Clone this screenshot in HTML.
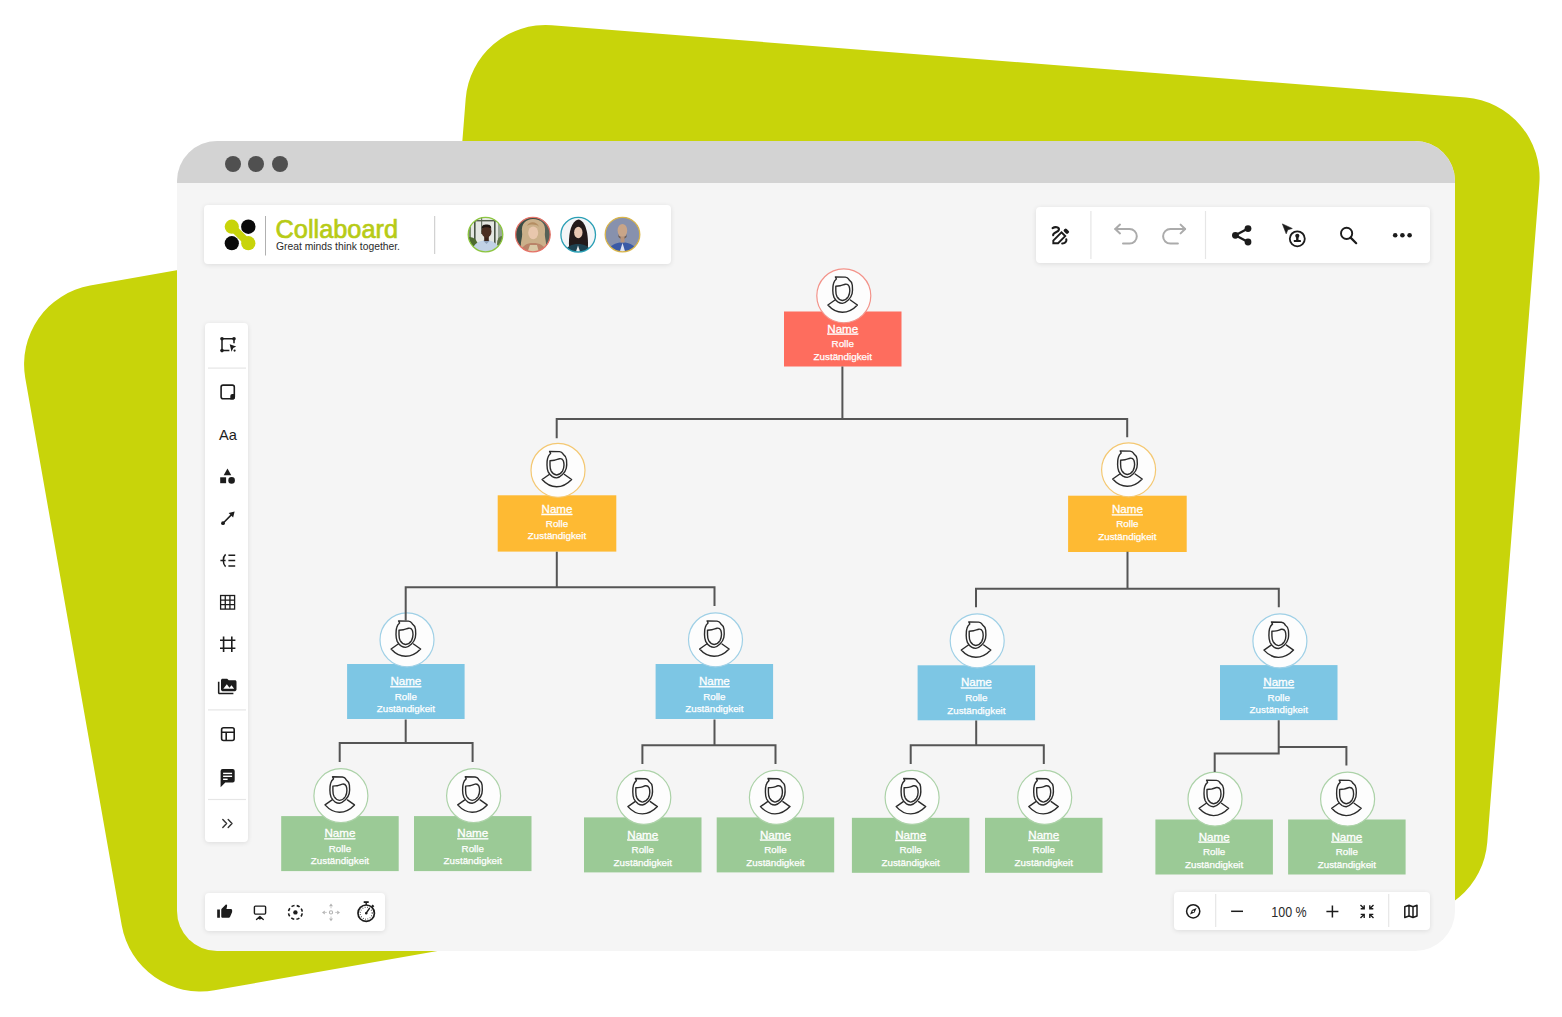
<!DOCTYPE html>
<html><head><meta charset="utf-8"><title>Collaboard</title>
<style>
html,body{margin:0;padding:0;background:#fff;width:1562px;height:1017px;overflow:hidden;font-family:"Liberation Sans", sans-serif}
.abs{position:absolute}
.dot{position:absolute;top:14.5px;width:16px;height:16px;border-radius:50%;background:#505050}
.panel{position:absolute;background:#fff;border-radius:4px;box-shadow:0 1px 5px rgba(0,0,0,0.10)}
</style></head><body>
<svg class="abs" width="1562" height="1017" viewBox="0 0 1562 1017" style="left:0;top:0">
<rect x="472" y="19" width="1077" height="821" rx="80" ry="80" fill="#c8d40a" transform="rotate(4.52 472 19)"/>
<rect x="11.4" y="299.5" width="700" height="715.6" rx="80" ry="80" fill="#c8d40a" transform="rotate(-10 11.4 299.5)"/>
</svg>
<div class="abs" id="win" style="left:177px;top:141px;width:1278px;height:810px;border-radius:40px;background:#f5f5f5;overflow:hidden">
<div style="position:absolute;left:0;top:0;width:1278px;height:42px;background:#d3d3d3"></div>
<div class="dot" style="left:47.8px"></div><div class="dot" style="left:71px"></div><div class="dot" style="left:94.8px"></div>
</div>
<svg class="abs" width="1562" height="1017" viewBox="0 0 1562 1017" style="left:0;top:0">
<rect x="784" y="311.5" width="117.5" height="55" fill="#fe6d5e"/>
<circle cx="843.8" cy="295.8" r="27" fill="#fdfdfd" stroke="#f3938a" stroke-width="1.2"/>
<g transform="translate(843.8,296.1)"><g fill="none" stroke="#2b2b2b" stroke-width="1.4" stroke-linejoin="round" stroke-linecap="round"><path d="M-8.4,-19.2 L1.5,-19.0 C3.1,-18.8 4.2,-18 4.6,-17.3 C5,-16.5 5.3,-16 5.8,-15.7 C7.3,-14.8 8.3,-12.9 8.5,-10.9 C8.8,-8 8.9,-5 8.3,-2.5 C7.7,0 6.3,2.2 4.5,3.8 C2.8,5.4 0.8,7.1 -1.4,7.3 C-3.3,7.2 -4.6,6.7 -5.6,6.1 C-7.2,5 -8.7,3.4 -9.8,1.3 C-10.7,-0.8 -11,-3.5 -11,-5.7 C-11,-8.4 -10.9,-10.9 -10.3,-12.6 C-9.8,-14.4 -8.6,-16.3 -7.4,-17.1 Z"/><path d="M-8.0,-9.9 C-6.5,-10.1 -5.3,-10.1 -3.6,-10.3 C-1.9,-10.5 0,-11.6 1.6,-11.9 C3,-12.1 4.5,-11.5 5.3,-9.9 C5.8,-8.5 6.0,-7 6.0,-5.5 C6.0,-3.5 5.6,-1.5 4.5,0.5 C3.2,2.6 1.3,4.2 -1.4,4.4 C-3.6,4.2 -5.5,2.7 -6.8,0.5 C-7.8,-1.3 -8.0,-3.5 -8.0,-5.6 Z"/><path d="M-8.8,3.9 L-15.9,8.9 C-11.5,13.8 -6.5,16.2 -1.4,16.2 C3.7,16.2 9,13.8 13.6,8.9 L6.5,3.9"/></g></g>
<text x="842.75" y="332.6" text-anchor="middle" font-family='"Liberation Sans", sans-serif' font-size="11.6" fill="#fff" stroke="#fff" stroke-width="0.3" text-decoration="underline">Name</text>
<text x="842.75" y="347.0" text-anchor="middle" font-family='"Liberation Sans", sans-serif' font-size="9.8" fill="#fff" stroke="#fff" stroke-width="0.25">Rolle</text>
<text x="842.75" y="359.7" text-anchor="middle" font-family='"Liberation Sans", sans-serif' font-size="9.8" fill="#fff" stroke="#fff" stroke-width="0.25">Zuständigkeit</text>
<rect x="497.7" y="495.3" width="118.6" height="56.3" fill="#feba33"/>
<circle cx="558" cy="470.3" r="27" fill="#fdfdfd" stroke="#f4c872" stroke-width="1.2"/>
<g transform="translate(558,470.6)"><g fill="none" stroke="#2b2b2b" stroke-width="1.4" stroke-linejoin="round" stroke-linecap="round"><path d="M-8.4,-19.2 L1.5,-19.0 C3.1,-18.8 4.2,-18 4.6,-17.3 C5,-16.5 5.3,-16 5.8,-15.7 C7.3,-14.8 8.3,-12.9 8.5,-10.9 C8.8,-8 8.9,-5 8.3,-2.5 C7.7,0 6.3,2.2 4.5,3.8 C2.8,5.4 0.8,7.1 -1.4,7.3 C-3.3,7.2 -4.6,6.7 -5.6,6.1 C-7.2,5 -8.7,3.4 -9.8,1.3 C-10.7,-0.8 -11,-3.5 -11,-5.7 C-11,-8.4 -10.9,-10.9 -10.3,-12.6 C-9.8,-14.4 -8.6,-16.3 -7.4,-17.1 Z"/><path d="M-8.0,-9.9 C-6.5,-10.1 -5.3,-10.1 -3.6,-10.3 C-1.9,-10.5 0,-11.6 1.6,-11.9 C3,-12.1 4.5,-11.5 5.3,-9.9 C5.8,-8.5 6.0,-7 6.0,-5.5 C6.0,-3.5 5.6,-1.5 4.5,0.5 C3.2,2.6 1.3,4.2 -1.4,4.4 C-3.6,4.2 -5.5,2.7 -6.8,0.5 C-7.8,-1.3 -8.0,-3.5 -8.0,-5.6 Z"/><path d="M-8.8,3.9 L-15.9,8.9 C-11.5,13.8 -6.5,16.2 -1.4,16.2 C3.7,16.2 9,13.8 13.6,8.9 L6.5,3.9"/></g></g>
<text x="557.0" y="512.9" text-anchor="middle" font-family='"Liberation Sans", sans-serif' font-size="11.6" fill="#fff" stroke="#fff" stroke-width="0.3" text-decoration="underline">Name</text>
<text x="557.0" y="526.7" text-anchor="middle" font-family='"Liberation Sans", sans-serif' font-size="9.8" fill="#fff" stroke="#fff" stroke-width="0.25">Rolle</text>
<text x="557.0" y="539.4" text-anchor="middle" font-family='"Liberation Sans", sans-serif' font-size="9.8" fill="#fff" stroke="#fff" stroke-width="0.25">Zuständigkeit</text>
<rect x="1068.1" y="495.7" width="118.6" height="56.3" fill="#feba33"/>
<circle cx="1128.6" cy="469.8" r="27" fill="#fdfdfd" stroke="#f4c872" stroke-width="1.2"/>
<g transform="translate(1128.6,470.1)"><g fill="none" stroke="#2b2b2b" stroke-width="1.4" stroke-linejoin="round" stroke-linecap="round"><path d="M-8.4,-19.2 L1.5,-19.0 C3.1,-18.8 4.2,-18 4.6,-17.3 C5,-16.5 5.3,-16 5.8,-15.7 C7.3,-14.8 8.3,-12.9 8.5,-10.9 C8.8,-8 8.9,-5 8.3,-2.5 C7.7,0 6.3,2.2 4.5,3.8 C2.8,5.4 0.8,7.1 -1.4,7.3 C-3.3,7.2 -4.6,6.7 -5.6,6.1 C-7.2,5 -8.7,3.4 -9.8,1.3 C-10.7,-0.8 -11,-3.5 -11,-5.7 C-11,-8.4 -10.9,-10.9 -10.3,-12.6 C-9.8,-14.4 -8.6,-16.3 -7.4,-17.1 Z"/><path d="M-8.0,-9.9 C-6.5,-10.1 -5.3,-10.1 -3.6,-10.3 C-1.9,-10.5 0,-11.6 1.6,-11.9 C3,-12.1 4.5,-11.5 5.3,-9.9 C5.8,-8.5 6.0,-7 6.0,-5.5 C6.0,-3.5 5.6,-1.5 4.5,0.5 C3.2,2.6 1.3,4.2 -1.4,4.4 C-3.6,4.2 -5.5,2.7 -6.8,0.5 C-7.8,-1.3 -8.0,-3.5 -8.0,-5.6 Z"/><path d="M-8.8,3.9 L-15.9,8.9 C-11.5,13.8 -6.5,16.2 -1.4,16.2 C3.7,16.2 9,13.8 13.6,8.9 L6.5,3.9"/></g></g>
<text x="1127.3999999999999" y="513.3" text-anchor="middle" font-family='"Liberation Sans", sans-serif' font-size="11.6" fill="#fff" stroke="#fff" stroke-width="0.3" text-decoration="underline">Name</text>
<text x="1127.3999999999999" y="527.1" text-anchor="middle" font-family='"Liberation Sans", sans-serif' font-size="9.8" fill="#fff" stroke="#fff" stroke-width="0.25">Rolle</text>
<text x="1127.3999999999999" y="539.8" text-anchor="middle" font-family='"Liberation Sans", sans-serif' font-size="9.8" fill="#fff" stroke="#fff" stroke-width="0.25">Zuständigkeit</text>
<rect x="347.1" y="664" width="117.5" height="55" fill="#7dc6e4"/>
<circle cx="407" cy="639.8" r="27" fill="#fdfdfd" stroke="#9fd0e6" stroke-width="1.2"/>
<g transform="translate(407,640.0999999999999)"><g fill="none" stroke="#2b2b2b" stroke-width="1.4" stroke-linejoin="round" stroke-linecap="round"><path d="M-8.4,-19.2 L1.5,-19.0 C3.1,-18.8 4.2,-18 4.6,-17.3 C5,-16.5 5.3,-16 5.8,-15.7 C7.3,-14.8 8.3,-12.9 8.5,-10.9 C8.8,-8 8.9,-5 8.3,-2.5 C7.7,0 6.3,2.2 4.5,3.8 C2.8,5.4 0.8,7.1 -1.4,7.3 C-3.3,7.2 -4.6,6.7 -5.6,6.1 C-7.2,5 -8.7,3.4 -9.8,1.3 C-10.7,-0.8 -11,-3.5 -11,-5.7 C-11,-8.4 -10.9,-10.9 -10.3,-12.6 C-9.8,-14.4 -8.6,-16.3 -7.4,-17.1 Z"/><path d="M-8.0,-9.9 C-6.5,-10.1 -5.3,-10.1 -3.6,-10.3 C-1.9,-10.5 0,-11.6 1.6,-11.9 C3,-12.1 4.5,-11.5 5.3,-9.9 C5.8,-8.5 6.0,-7 6.0,-5.5 C6.0,-3.5 5.6,-1.5 4.5,0.5 C3.2,2.6 1.3,4.2 -1.4,4.4 C-3.6,4.2 -5.5,2.7 -6.8,0.5 C-7.8,-1.3 -8.0,-3.5 -8.0,-5.6 Z"/><path d="M-8.8,3.9 L-15.9,8.9 C-11.5,13.8 -6.5,16.2 -1.4,16.2 C3.7,16.2 9,13.8 13.6,8.9 L6.5,3.9"/></g></g>
<text x="405.85" y="685.1" text-anchor="middle" font-family='"Liberation Sans", sans-serif' font-size="11.6" fill="#fff" stroke="#fff" stroke-width="0.3" text-decoration="underline">Name</text>
<text x="405.85" y="699.5" text-anchor="middle" font-family='"Liberation Sans", sans-serif' font-size="9.8" fill="#fff" stroke="#fff" stroke-width="0.25">Rolle</text>
<text x="405.85" y="712.2" text-anchor="middle" font-family='"Liberation Sans", sans-serif' font-size="9.8" fill="#fff" stroke="#fff" stroke-width="0.25">Zuständigkeit</text>
<rect x="655.6" y="664" width="117.5" height="55" fill="#7dc6e4"/>
<circle cx="715.5" cy="639.8" r="27" fill="#fdfdfd" stroke="#9fd0e6" stroke-width="1.2"/>
<g transform="translate(715.5,640.0999999999999)"><g fill="none" stroke="#2b2b2b" stroke-width="1.4" stroke-linejoin="round" stroke-linecap="round"><path d="M-8.4,-19.2 L1.5,-19.0 C3.1,-18.8 4.2,-18 4.6,-17.3 C5,-16.5 5.3,-16 5.8,-15.7 C7.3,-14.8 8.3,-12.9 8.5,-10.9 C8.8,-8 8.9,-5 8.3,-2.5 C7.7,0 6.3,2.2 4.5,3.8 C2.8,5.4 0.8,7.1 -1.4,7.3 C-3.3,7.2 -4.6,6.7 -5.6,6.1 C-7.2,5 -8.7,3.4 -9.8,1.3 C-10.7,-0.8 -11,-3.5 -11,-5.7 C-11,-8.4 -10.9,-10.9 -10.3,-12.6 C-9.8,-14.4 -8.6,-16.3 -7.4,-17.1 Z"/><path d="M-8.0,-9.9 C-6.5,-10.1 -5.3,-10.1 -3.6,-10.3 C-1.9,-10.5 0,-11.6 1.6,-11.9 C3,-12.1 4.5,-11.5 5.3,-9.9 C5.8,-8.5 6.0,-7 6.0,-5.5 C6.0,-3.5 5.6,-1.5 4.5,0.5 C3.2,2.6 1.3,4.2 -1.4,4.4 C-3.6,4.2 -5.5,2.7 -6.8,0.5 C-7.8,-1.3 -8.0,-3.5 -8.0,-5.6 Z"/><path d="M-8.8,3.9 L-15.9,8.9 C-11.5,13.8 -6.5,16.2 -1.4,16.2 C3.7,16.2 9,13.8 13.6,8.9 L6.5,3.9"/></g></g>
<text x="714.35" y="685.1" text-anchor="middle" font-family='"Liberation Sans", sans-serif' font-size="11.6" fill="#fff" stroke="#fff" stroke-width="0.3" text-decoration="underline">Name</text>
<text x="714.35" y="699.5" text-anchor="middle" font-family='"Liberation Sans", sans-serif' font-size="9.8" fill="#fff" stroke="#fff" stroke-width="0.25">Rolle</text>
<text x="714.35" y="712.2" text-anchor="middle" font-family='"Liberation Sans", sans-serif' font-size="9.8" fill="#fff" stroke="#fff" stroke-width="0.25">Zuständigkeit</text>
<rect x="917.6" y="665.3" width="117.5" height="55" fill="#7dc6e4"/>
<circle cx="977.2" cy="640.8" r="27" fill="#fdfdfd" stroke="#9fd0e6" stroke-width="1.2"/>
<g transform="translate(977.2,641.0999999999999)"><g fill="none" stroke="#2b2b2b" stroke-width="1.4" stroke-linejoin="round" stroke-linecap="round"><path d="M-8.4,-19.2 L1.5,-19.0 C3.1,-18.8 4.2,-18 4.6,-17.3 C5,-16.5 5.3,-16 5.8,-15.7 C7.3,-14.8 8.3,-12.9 8.5,-10.9 C8.8,-8 8.9,-5 8.3,-2.5 C7.7,0 6.3,2.2 4.5,3.8 C2.8,5.4 0.8,7.1 -1.4,7.3 C-3.3,7.2 -4.6,6.7 -5.6,6.1 C-7.2,5 -8.7,3.4 -9.8,1.3 C-10.7,-0.8 -11,-3.5 -11,-5.7 C-11,-8.4 -10.9,-10.9 -10.3,-12.6 C-9.8,-14.4 -8.6,-16.3 -7.4,-17.1 Z"/><path d="M-8.0,-9.9 C-6.5,-10.1 -5.3,-10.1 -3.6,-10.3 C-1.9,-10.5 0,-11.6 1.6,-11.9 C3,-12.1 4.5,-11.5 5.3,-9.9 C5.8,-8.5 6.0,-7 6.0,-5.5 C6.0,-3.5 5.6,-1.5 4.5,0.5 C3.2,2.6 1.3,4.2 -1.4,4.4 C-3.6,4.2 -5.5,2.7 -6.8,0.5 C-7.8,-1.3 -8.0,-3.5 -8.0,-5.6 Z"/><path d="M-8.8,3.9 L-15.9,8.9 C-11.5,13.8 -6.5,16.2 -1.4,16.2 C3.7,16.2 9,13.8 13.6,8.9 L6.5,3.9"/></g></g>
<text x="976.35" y="686.4" text-anchor="middle" font-family='"Liberation Sans", sans-serif' font-size="11.6" fill="#fff" stroke="#fff" stroke-width="0.3" text-decoration="underline">Name</text>
<text x="976.35" y="700.8" text-anchor="middle" font-family='"Liberation Sans", sans-serif' font-size="9.8" fill="#fff" stroke="#fff" stroke-width="0.25">Rolle</text>
<text x="976.35" y="713.5" text-anchor="middle" font-family='"Liberation Sans", sans-serif' font-size="9.8" fill="#fff" stroke="#fff" stroke-width="0.25">Zuständigkeit</text>
<rect x="1220" y="665.1" width="117.5" height="55" fill="#7dc6e4"/>
<circle cx="1279.9" cy="640.9" r="27" fill="#fdfdfd" stroke="#9fd0e6" stroke-width="1.2"/>
<g transform="translate(1279.9,641.1999999999999)"><g fill="none" stroke="#2b2b2b" stroke-width="1.4" stroke-linejoin="round" stroke-linecap="round"><path d="M-8.4,-19.2 L1.5,-19.0 C3.1,-18.8 4.2,-18 4.6,-17.3 C5,-16.5 5.3,-16 5.8,-15.7 C7.3,-14.8 8.3,-12.9 8.5,-10.9 C8.8,-8 8.9,-5 8.3,-2.5 C7.7,0 6.3,2.2 4.5,3.8 C2.8,5.4 0.8,7.1 -1.4,7.3 C-3.3,7.2 -4.6,6.7 -5.6,6.1 C-7.2,5 -8.7,3.4 -9.8,1.3 C-10.7,-0.8 -11,-3.5 -11,-5.7 C-11,-8.4 -10.9,-10.9 -10.3,-12.6 C-9.8,-14.4 -8.6,-16.3 -7.4,-17.1 Z"/><path d="M-8.0,-9.9 C-6.5,-10.1 -5.3,-10.1 -3.6,-10.3 C-1.9,-10.5 0,-11.6 1.6,-11.9 C3,-12.1 4.5,-11.5 5.3,-9.9 C5.8,-8.5 6.0,-7 6.0,-5.5 C6.0,-3.5 5.6,-1.5 4.5,0.5 C3.2,2.6 1.3,4.2 -1.4,4.4 C-3.6,4.2 -5.5,2.7 -6.8,0.5 C-7.8,-1.3 -8.0,-3.5 -8.0,-5.6 Z"/><path d="M-8.8,3.9 L-15.9,8.9 C-11.5,13.8 -6.5,16.2 -1.4,16.2 C3.7,16.2 9,13.8 13.6,8.9 L6.5,3.9"/></g></g>
<text x="1278.75" y="686.2" text-anchor="middle" font-family='"Liberation Sans", sans-serif' font-size="11.6" fill="#fff" stroke="#fff" stroke-width="0.3" text-decoration="underline">Name</text>
<text x="1278.75" y="700.6" text-anchor="middle" font-family='"Liberation Sans", sans-serif' font-size="9.8" fill="#fff" stroke="#fff" stroke-width="0.25">Rolle</text>
<text x="1278.75" y="713.3000000000001" text-anchor="middle" font-family='"Liberation Sans", sans-serif' font-size="9.8" fill="#fff" stroke="#fff" stroke-width="0.25">Zuständigkeit</text>
<rect x="281.2" y="816.1" width="117.5" height="55" fill="#9bca96"/>
<circle cx="340.9" cy="795.7" r="27" fill="#fdfdfd" stroke="#acd2a8" stroke-width="1.2"/>
<g transform="translate(340.9,796.0)"><g fill="none" stroke="#2b2b2b" stroke-width="1.4" stroke-linejoin="round" stroke-linecap="round"><path d="M-8.4,-19.2 L1.5,-19.0 C3.1,-18.8 4.2,-18 4.6,-17.3 C5,-16.5 5.3,-16 5.8,-15.7 C7.3,-14.8 8.3,-12.9 8.5,-10.9 C8.8,-8 8.9,-5 8.3,-2.5 C7.7,0 6.3,2.2 4.5,3.8 C2.8,5.4 0.8,7.1 -1.4,7.3 C-3.3,7.2 -4.6,6.7 -5.6,6.1 C-7.2,5 -8.7,3.4 -9.8,1.3 C-10.7,-0.8 -11,-3.5 -11,-5.7 C-11,-8.4 -10.9,-10.9 -10.3,-12.6 C-9.8,-14.4 -8.6,-16.3 -7.4,-17.1 Z"/><path d="M-8.0,-9.9 C-6.5,-10.1 -5.3,-10.1 -3.6,-10.3 C-1.9,-10.5 0,-11.6 1.6,-11.9 C3,-12.1 4.5,-11.5 5.3,-9.9 C5.8,-8.5 6.0,-7 6.0,-5.5 C6.0,-3.5 5.6,-1.5 4.5,0.5 C3.2,2.6 1.3,4.2 -1.4,4.4 C-3.6,4.2 -5.5,2.7 -6.8,0.5 C-7.8,-1.3 -8.0,-3.5 -8.0,-5.6 Z"/><path d="M-8.8,3.9 L-15.9,8.9 C-11.5,13.8 -6.5,16.2 -1.4,16.2 C3.7,16.2 9,13.8 13.6,8.9 L6.5,3.9"/></g></g>
<text x="339.95" y="837.2" text-anchor="middle" font-family='"Liberation Sans", sans-serif' font-size="11.6" fill="#fff" stroke="#fff" stroke-width="0.3" text-decoration="underline">Name</text>
<text x="339.95" y="851.6" text-anchor="middle" font-family='"Liberation Sans", sans-serif' font-size="9.8" fill="#fff" stroke="#fff" stroke-width="0.25">Rolle</text>
<text x="339.95" y="864.3000000000001" text-anchor="middle" font-family='"Liberation Sans", sans-serif' font-size="9.8" fill="#fff" stroke="#fff" stroke-width="0.25">Zuständigkeit</text>
<rect x="414" y="816.1" width="117.5" height="55" fill="#9bca96"/>
<circle cx="473.6" cy="795.7" r="27" fill="#fdfdfd" stroke="#acd2a8" stroke-width="1.2"/>
<g transform="translate(473.6,796.0)"><g fill="none" stroke="#2b2b2b" stroke-width="1.4" stroke-linejoin="round" stroke-linecap="round"><path d="M-8.4,-19.2 L1.5,-19.0 C3.1,-18.8 4.2,-18 4.6,-17.3 C5,-16.5 5.3,-16 5.8,-15.7 C7.3,-14.8 8.3,-12.9 8.5,-10.9 C8.8,-8 8.9,-5 8.3,-2.5 C7.7,0 6.3,2.2 4.5,3.8 C2.8,5.4 0.8,7.1 -1.4,7.3 C-3.3,7.2 -4.6,6.7 -5.6,6.1 C-7.2,5 -8.7,3.4 -9.8,1.3 C-10.7,-0.8 -11,-3.5 -11,-5.7 C-11,-8.4 -10.9,-10.9 -10.3,-12.6 C-9.8,-14.4 -8.6,-16.3 -7.4,-17.1 Z"/><path d="M-8.0,-9.9 C-6.5,-10.1 -5.3,-10.1 -3.6,-10.3 C-1.9,-10.5 0,-11.6 1.6,-11.9 C3,-12.1 4.5,-11.5 5.3,-9.9 C5.8,-8.5 6.0,-7 6.0,-5.5 C6.0,-3.5 5.6,-1.5 4.5,0.5 C3.2,2.6 1.3,4.2 -1.4,4.4 C-3.6,4.2 -5.5,2.7 -6.8,0.5 C-7.8,-1.3 -8.0,-3.5 -8.0,-5.6 Z"/><path d="M-8.8,3.9 L-15.9,8.9 C-11.5,13.8 -6.5,16.2 -1.4,16.2 C3.7,16.2 9,13.8 13.6,8.9 L6.5,3.9"/></g></g>
<text x="472.75" y="837.2" text-anchor="middle" font-family='"Liberation Sans", sans-serif' font-size="11.6" fill="#fff" stroke="#fff" stroke-width="0.3" text-decoration="underline">Name</text>
<text x="472.75" y="851.6" text-anchor="middle" font-family='"Liberation Sans", sans-serif' font-size="9.8" fill="#fff" stroke="#fff" stroke-width="0.25">Rolle</text>
<text x="472.75" y="864.3000000000001" text-anchor="middle" font-family='"Liberation Sans", sans-serif' font-size="9.8" fill="#fff" stroke="#fff" stroke-width="0.25">Zuständigkeit</text>
<rect x="584" y="817.4" width="117.5" height="55" fill="#9bca96"/>
<circle cx="643.8" cy="797.4" r="27" fill="#fdfdfd" stroke="#acd2a8" stroke-width="1.2"/>
<g transform="translate(643.8,797.6999999999999)"><g fill="none" stroke="#2b2b2b" stroke-width="1.4" stroke-linejoin="round" stroke-linecap="round"><path d="M-8.4,-19.2 L1.5,-19.0 C3.1,-18.8 4.2,-18 4.6,-17.3 C5,-16.5 5.3,-16 5.8,-15.7 C7.3,-14.8 8.3,-12.9 8.5,-10.9 C8.8,-8 8.9,-5 8.3,-2.5 C7.7,0 6.3,2.2 4.5,3.8 C2.8,5.4 0.8,7.1 -1.4,7.3 C-3.3,7.2 -4.6,6.7 -5.6,6.1 C-7.2,5 -8.7,3.4 -9.8,1.3 C-10.7,-0.8 -11,-3.5 -11,-5.7 C-11,-8.4 -10.9,-10.9 -10.3,-12.6 C-9.8,-14.4 -8.6,-16.3 -7.4,-17.1 Z"/><path d="M-8.0,-9.9 C-6.5,-10.1 -5.3,-10.1 -3.6,-10.3 C-1.9,-10.5 0,-11.6 1.6,-11.9 C3,-12.1 4.5,-11.5 5.3,-9.9 C5.8,-8.5 6.0,-7 6.0,-5.5 C6.0,-3.5 5.6,-1.5 4.5,0.5 C3.2,2.6 1.3,4.2 -1.4,4.4 C-3.6,4.2 -5.5,2.7 -6.8,0.5 C-7.8,-1.3 -8.0,-3.5 -8.0,-5.6 Z"/><path d="M-8.8,3.9 L-15.9,8.9 C-11.5,13.8 -6.5,16.2 -1.4,16.2 C3.7,16.2 9,13.8 13.6,8.9 L6.5,3.9"/></g></g>
<text x="642.75" y="838.5" text-anchor="middle" font-family='"Liberation Sans", sans-serif' font-size="11.6" fill="#fff" stroke="#fff" stroke-width="0.3" text-decoration="underline">Name</text>
<text x="642.75" y="852.9" text-anchor="middle" font-family='"Liberation Sans", sans-serif' font-size="9.8" fill="#fff" stroke="#fff" stroke-width="0.25">Rolle</text>
<text x="642.75" y="865.6" text-anchor="middle" font-family='"Liberation Sans", sans-serif' font-size="9.8" fill="#fff" stroke="#fff" stroke-width="0.25">Zuständigkeit</text>
<rect x="716.7" y="817.4" width="117.5" height="55" fill="#9bca96"/>
<circle cx="776.4" cy="797.4" r="27" fill="#fdfdfd" stroke="#acd2a8" stroke-width="1.2"/>
<g transform="translate(776.4,797.6999999999999)"><g fill="none" stroke="#2b2b2b" stroke-width="1.4" stroke-linejoin="round" stroke-linecap="round"><path d="M-8.4,-19.2 L1.5,-19.0 C3.1,-18.8 4.2,-18 4.6,-17.3 C5,-16.5 5.3,-16 5.8,-15.7 C7.3,-14.8 8.3,-12.9 8.5,-10.9 C8.8,-8 8.9,-5 8.3,-2.5 C7.7,0 6.3,2.2 4.5,3.8 C2.8,5.4 0.8,7.1 -1.4,7.3 C-3.3,7.2 -4.6,6.7 -5.6,6.1 C-7.2,5 -8.7,3.4 -9.8,1.3 C-10.7,-0.8 -11,-3.5 -11,-5.7 C-11,-8.4 -10.9,-10.9 -10.3,-12.6 C-9.8,-14.4 -8.6,-16.3 -7.4,-17.1 Z"/><path d="M-8.0,-9.9 C-6.5,-10.1 -5.3,-10.1 -3.6,-10.3 C-1.9,-10.5 0,-11.6 1.6,-11.9 C3,-12.1 4.5,-11.5 5.3,-9.9 C5.8,-8.5 6.0,-7 6.0,-5.5 C6.0,-3.5 5.6,-1.5 4.5,0.5 C3.2,2.6 1.3,4.2 -1.4,4.4 C-3.6,4.2 -5.5,2.7 -6.8,0.5 C-7.8,-1.3 -8.0,-3.5 -8.0,-5.6 Z"/><path d="M-8.8,3.9 L-15.9,8.9 C-11.5,13.8 -6.5,16.2 -1.4,16.2 C3.7,16.2 9,13.8 13.6,8.9 L6.5,3.9"/></g></g>
<text x="775.45" y="838.5" text-anchor="middle" font-family='"Liberation Sans", sans-serif' font-size="11.6" fill="#fff" stroke="#fff" stroke-width="0.3" text-decoration="underline">Name</text>
<text x="775.45" y="852.9" text-anchor="middle" font-family='"Liberation Sans", sans-serif' font-size="9.8" fill="#fff" stroke="#fff" stroke-width="0.25">Rolle</text>
<text x="775.45" y="865.6" text-anchor="middle" font-family='"Liberation Sans", sans-serif' font-size="9.8" fill="#fff" stroke="#fff" stroke-width="0.25">Zuständigkeit</text>
<rect x="851.9" y="817.8" width="117.5" height="55" fill="#9bca96"/>
<circle cx="912.1" cy="797.4" r="27" fill="#fdfdfd" stroke="#acd2a8" stroke-width="1.2"/>
<g transform="translate(912.1,797.6999999999999)"><g fill="none" stroke="#2b2b2b" stroke-width="1.4" stroke-linejoin="round" stroke-linecap="round"><path d="M-8.4,-19.2 L1.5,-19.0 C3.1,-18.8 4.2,-18 4.6,-17.3 C5,-16.5 5.3,-16 5.8,-15.7 C7.3,-14.8 8.3,-12.9 8.5,-10.9 C8.8,-8 8.9,-5 8.3,-2.5 C7.7,0 6.3,2.2 4.5,3.8 C2.8,5.4 0.8,7.1 -1.4,7.3 C-3.3,7.2 -4.6,6.7 -5.6,6.1 C-7.2,5 -8.7,3.4 -9.8,1.3 C-10.7,-0.8 -11,-3.5 -11,-5.7 C-11,-8.4 -10.9,-10.9 -10.3,-12.6 C-9.8,-14.4 -8.6,-16.3 -7.4,-17.1 Z"/><path d="M-8.0,-9.9 C-6.5,-10.1 -5.3,-10.1 -3.6,-10.3 C-1.9,-10.5 0,-11.6 1.6,-11.9 C3,-12.1 4.5,-11.5 5.3,-9.9 C5.8,-8.5 6.0,-7 6.0,-5.5 C6.0,-3.5 5.6,-1.5 4.5,0.5 C3.2,2.6 1.3,4.2 -1.4,4.4 C-3.6,4.2 -5.5,2.7 -6.8,0.5 C-7.8,-1.3 -8.0,-3.5 -8.0,-5.6 Z"/><path d="M-8.8,3.9 L-15.9,8.9 C-11.5,13.8 -6.5,16.2 -1.4,16.2 C3.7,16.2 9,13.8 13.6,8.9 L6.5,3.9"/></g></g>
<text x="910.65" y="838.9" text-anchor="middle" font-family='"Liberation Sans", sans-serif' font-size="11.6" fill="#fff" stroke="#fff" stroke-width="0.3" text-decoration="underline">Name</text>
<text x="910.65" y="853.3" text-anchor="middle" font-family='"Liberation Sans", sans-serif' font-size="9.8" fill="#fff" stroke="#fff" stroke-width="0.25">Rolle</text>
<text x="910.65" y="866.0" text-anchor="middle" font-family='"Liberation Sans", sans-serif' font-size="9.8" fill="#fff" stroke="#fff" stroke-width="0.25">Zuständigkeit</text>
<rect x="985" y="817.8" width="117.5" height="55" fill="#9bca96"/>
<circle cx="1044.7" cy="797.4" r="27" fill="#fdfdfd" stroke="#acd2a8" stroke-width="1.2"/>
<g transform="translate(1044.7,797.6999999999999)"><g fill="none" stroke="#2b2b2b" stroke-width="1.4" stroke-linejoin="round" stroke-linecap="round"><path d="M-8.4,-19.2 L1.5,-19.0 C3.1,-18.8 4.2,-18 4.6,-17.3 C5,-16.5 5.3,-16 5.8,-15.7 C7.3,-14.8 8.3,-12.9 8.5,-10.9 C8.8,-8 8.9,-5 8.3,-2.5 C7.7,0 6.3,2.2 4.5,3.8 C2.8,5.4 0.8,7.1 -1.4,7.3 C-3.3,7.2 -4.6,6.7 -5.6,6.1 C-7.2,5 -8.7,3.4 -9.8,1.3 C-10.7,-0.8 -11,-3.5 -11,-5.7 C-11,-8.4 -10.9,-10.9 -10.3,-12.6 C-9.8,-14.4 -8.6,-16.3 -7.4,-17.1 Z"/><path d="M-8.0,-9.9 C-6.5,-10.1 -5.3,-10.1 -3.6,-10.3 C-1.9,-10.5 0,-11.6 1.6,-11.9 C3,-12.1 4.5,-11.5 5.3,-9.9 C5.8,-8.5 6.0,-7 6.0,-5.5 C6.0,-3.5 5.6,-1.5 4.5,0.5 C3.2,2.6 1.3,4.2 -1.4,4.4 C-3.6,4.2 -5.5,2.7 -6.8,0.5 C-7.8,-1.3 -8.0,-3.5 -8.0,-5.6 Z"/><path d="M-8.8,3.9 L-15.9,8.9 C-11.5,13.8 -6.5,16.2 -1.4,16.2 C3.7,16.2 9,13.8 13.6,8.9 L6.5,3.9"/></g></g>
<text x="1043.75" y="838.9" text-anchor="middle" font-family='"Liberation Sans", sans-serif' font-size="11.6" fill="#fff" stroke="#fff" stroke-width="0.3" text-decoration="underline">Name</text>
<text x="1043.75" y="853.3" text-anchor="middle" font-family='"Liberation Sans", sans-serif' font-size="9.8" fill="#fff" stroke="#fff" stroke-width="0.25">Rolle</text>
<text x="1043.75" y="866.0" text-anchor="middle" font-family='"Liberation Sans", sans-serif' font-size="9.8" fill="#fff" stroke="#fff" stroke-width="0.25">Zuständigkeit</text>
<rect x="1155.4" y="819.5" width="117.5" height="55" fill="#9bca96"/>
<circle cx="1215" cy="799.1" r="27" fill="#fdfdfd" stroke="#acd2a8" stroke-width="1.2"/>
<g transform="translate(1215,799.4)"><g fill="none" stroke="#2b2b2b" stroke-width="1.4" stroke-linejoin="round" stroke-linecap="round"><path d="M-8.4,-19.2 L1.5,-19.0 C3.1,-18.8 4.2,-18 4.6,-17.3 C5,-16.5 5.3,-16 5.8,-15.7 C7.3,-14.8 8.3,-12.9 8.5,-10.9 C8.8,-8 8.9,-5 8.3,-2.5 C7.7,0 6.3,2.2 4.5,3.8 C2.8,5.4 0.8,7.1 -1.4,7.3 C-3.3,7.2 -4.6,6.7 -5.6,6.1 C-7.2,5 -8.7,3.4 -9.8,1.3 C-10.7,-0.8 -11,-3.5 -11,-5.7 C-11,-8.4 -10.9,-10.9 -10.3,-12.6 C-9.8,-14.4 -8.6,-16.3 -7.4,-17.1 Z"/><path d="M-8.0,-9.9 C-6.5,-10.1 -5.3,-10.1 -3.6,-10.3 C-1.9,-10.5 0,-11.6 1.6,-11.9 C3,-12.1 4.5,-11.5 5.3,-9.9 C5.8,-8.5 6.0,-7 6.0,-5.5 C6.0,-3.5 5.6,-1.5 4.5,0.5 C3.2,2.6 1.3,4.2 -1.4,4.4 C-3.6,4.2 -5.5,2.7 -6.8,0.5 C-7.8,-1.3 -8.0,-3.5 -8.0,-5.6 Z"/><path d="M-8.8,3.9 L-15.9,8.9 C-11.5,13.8 -6.5,16.2 -1.4,16.2 C3.7,16.2 9,13.8 13.6,8.9 L6.5,3.9"/></g></g>
<text x="1214.15" y="840.6" text-anchor="middle" font-family='"Liberation Sans", sans-serif' font-size="11.6" fill="#fff" stroke="#fff" stroke-width="0.3" text-decoration="underline">Name</text>
<text x="1214.15" y="855.0" text-anchor="middle" font-family='"Liberation Sans", sans-serif' font-size="9.8" fill="#fff" stroke="#fff" stroke-width="0.25">Rolle</text>
<text x="1214.15" y="867.7" text-anchor="middle" font-family='"Liberation Sans", sans-serif' font-size="9.8" fill="#fff" stroke="#fff" stroke-width="0.25">Zuständigkeit</text>
<rect x="1288.1" y="819.5" width="117.5" height="55" fill="#9bca96"/>
<circle cx="1347.6" cy="799.1" r="27" fill="#fdfdfd" stroke="#acd2a8" stroke-width="1.2"/>
<g transform="translate(1347.6,799.4)"><g fill="none" stroke="#2b2b2b" stroke-width="1.4" stroke-linejoin="round" stroke-linecap="round"><path d="M-8.4,-19.2 L1.5,-19.0 C3.1,-18.8 4.2,-18 4.6,-17.3 C5,-16.5 5.3,-16 5.8,-15.7 C7.3,-14.8 8.3,-12.9 8.5,-10.9 C8.8,-8 8.9,-5 8.3,-2.5 C7.7,0 6.3,2.2 4.5,3.8 C2.8,5.4 0.8,7.1 -1.4,7.3 C-3.3,7.2 -4.6,6.7 -5.6,6.1 C-7.2,5 -8.7,3.4 -9.8,1.3 C-10.7,-0.8 -11,-3.5 -11,-5.7 C-11,-8.4 -10.9,-10.9 -10.3,-12.6 C-9.8,-14.4 -8.6,-16.3 -7.4,-17.1 Z"/><path d="M-8.0,-9.9 C-6.5,-10.1 -5.3,-10.1 -3.6,-10.3 C-1.9,-10.5 0,-11.6 1.6,-11.9 C3,-12.1 4.5,-11.5 5.3,-9.9 C5.8,-8.5 6.0,-7 6.0,-5.5 C6.0,-3.5 5.6,-1.5 4.5,0.5 C3.2,2.6 1.3,4.2 -1.4,4.4 C-3.6,4.2 -5.5,2.7 -6.8,0.5 C-7.8,-1.3 -8.0,-3.5 -8.0,-5.6 Z"/><path d="M-8.8,3.9 L-15.9,8.9 C-11.5,13.8 -6.5,16.2 -1.4,16.2 C3.7,16.2 9,13.8 13.6,8.9 L6.5,3.9"/></g></g>
<text x="1346.85" y="840.6" text-anchor="middle" font-family='"Liberation Sans", sans-serif' font-size="11.6" fill="#fff" stroke="#fff" stroke-width="0.3" text-decoration="underline">Name</text>
<text x="1346.85" y="855.0" text-anchor="middle" font-family='"Liberation Sans", sans-serif' font-size="9.8" fill="#fff" stroke="#fff" stroke-width="0.25">Rolle</text>
<text x="1346.85" y="867.7" text-anchor="middle" font-family='"Liberation Sans", sans-serif' font-size="9.8" fill="#fff" stroke="#fff" stroke-width="0.25">Zuständigkeit</text>
<path d="M842.4 366.5 V419 M556.7 419 H1127.2 M556.7 418 V438.3 M1127.2 418 V437.3 M556.8 551.7 V587.3 M405.7 587.3 H714.5 M405.7 586.3 V620.7 M714.5 586.3 V606 M1127.5 551.7 V588.7 M976 588.7 H1278.8 M976 587.7 V607.3 M1278.8 587.7 V607.2 M405.7 719.4 V743 M339.7 743 H472.6 M339.7 742 V762 M472.6 742 V762 M714.5 719.4 V745.2 M642.4 745.2 H775.5 M642.4 744.2 V764 M775.5 744.2 V764 M976.2 720.4 V745.2 M910.7 745.2 H1043.8 M910.7 744.2 V764 M1043.8 744.2 V764 M1278.7 720.3 V753.5 M1214.7 753.5 H1279.7 M1214.7 752.5 V772 M1278.7 746.9 H1346.4 M1346.4 745.9 V765.6" fill="none" stroke="#555" stroke-width="2"/>
</svg>
<div class="panel" style="left:204px;top:205px;width:467px;height:59px"></div>
<div class="panel" style="left:1036px;top:207px;width:394px;height:56px"></div>
<div class="panel" style="left:205px;top:323px;width:43px;height:519px"></div>
<div class="panel" style="left:205px;top:892.5px;width:180px;height:38px"></div>
<div class="panel" style="left:1174px;top:891.5px;width:256px;height:38.5px"></div>
<svg class="abs" width="1562" height="1017" viewBox="0 0 1562 1017" style="left:0;top:0">
<line x1="231.8" y1="226.7" x2="248.3" y2="243.2" stroke="#c8d40a" stroke-width="7.5"/>
<circle cx="231.8" cy="226.7" r="7.1" fill="#c8d40a"/><circle cx="248.3" cy="243.2" r="7.1" fill="#c8d40a"/>
<circle cx="248.3" cy="226.7" r="7.2" fill="#0a0a0a"/><circle cx="231.8" cy="243.2" r="7.1" fill="#0a0a0a"/>
<rect x="265" y="216" width="1" height="39.5" fill="#b0b0b0"/>
<rect x="434.2" y="216" width="1" height="38" fill="#c8c8c8"/>
<text x="275.5" y="238" font-family='"Liberation Sans", sans-serif' font-size="25" fill="#b7cb16" stroke="#b7cb16" stroke-width="0.7" textLength="122.5" lengthAdjust="spacingAndGlyphs">Collaboard</text>
<text x="276" y="250.3" font-family='"Liberation Sans", sans-serif' font-size="10.6" fill="#2a2a2a" textLength="124" lengthAdjust="spacingAndGlyphs">Great minds think together.</text>
</svg>
<svg class="abs" width="1562" height="1017" viewBox="0 0 1562 1017" style="left:0;top:0">
<g fill="#e6e6e6"><rect x="1090.3" y="211" width="1.2" height="48"/><rect x="1204.9" y="211" width="1.2" height="48"/><rect x="208" y="367.5" width="38" height="1.2"/><rect x="208" y="709.3" width="38" height="1.2"/><rect x="208" y="798.9" width="38" height="1.2"/><rect x="1215.1" y="894" width="1.2" height="33"/><rect x="1388.1" y="894" width="1.2" height="33"/></g>
<g fill="none" stroke="#1c1c1c" stroke-width="2.1" stroke-linecap="round" stroke-linejoin="round"><path d="M1052.6 228.2 C1055 226.4 1059.4 226.8 1058.9 229.7 C1058.4 232.3 1052.6 232.4 1053.2 235.3"/><path d="M1062.2 243.5 C1064.9 243.6 1066.9 241.7 1066.3 239.2"/><path d="M1053.3 243.2 V240.6 L1061.5 232.4 L1065.2 236.1 L1058.1 243.2 Z" stroke-width="1.9" stroke-linejoin="miter"/></g>
<g transform="translate(1066.3 231.3) rotate(-45)"><rect x="-1.8" y="-2.8" width="3.8" height="5.6" rx="1.4" fill="#1c1c1c"/></g>
<g fill="none" stroke="#ababab" stroke-width="2" stroke-linecap="round" stroke-linejoin="round"><path d="M1115.3 229 H1129.5 A7.3 7.3 0 0 1 1129.5 243.6 H1123"/><path d="M1120 224.6 L1115.3 229 L1120 233.4"/><path d="M1185.1 229 H1170.4 A7.3 7.3 0 0 0 1170.4 243.6 H1177.9"/><path d="M1180.6 224.6 L1185.1 229 L1180.6 233.4"/></g>
<g fill="#1c1c1c"><circle cx="1235.4" cy="235.3" r="3.4"/><circle cx="1248" cy="228.6" r="3.4"/><circle cx="1248" cy="242" r="3.4"/></g><path d="M1235.4 235.3 L1248 228.6 M1235.4 235.3 L1248 242" stroke="#1c1c1c" stroke-width="2.3"/>
<path d="M1282.4 223.9 L1292.3 228.5 L1287.8 229.8 L1286.2 233.8 Z" fill="#1c1c1c" stroke="#1c1c1c" stroke-width="0.6" stroke-linejoin="round"/><circle cx="1297.3" cy="238.8" r="7.5" fill="none" stroke="#1c1c1c" stroke-width="1.8"/><circle cx="1297.3" cy="235.8" r="2.1" fill="#1c1c1c"/><rect x="1296.1" y="236" width="2.4" height="4.5" fill="#1c1c1c"/><rect x="1293.8" y="240" width="7.2" height="1.9" rx="0.4" fill="#1c1c1c"/>
<circle cx="1346.6" cy="233.4" r="5.6" fill="none" stroke="#1c1c1c" stroke-width="1.9"/><path d="M1350.6 237.6 L1356.2 243.2" stroke="#1c1c1c" stroke-width="2.2" stroke-linecap="round"/>
<g fill="#1c1c1c"><circle cx="1395.2" cy="235.3" r="2.3"/><circle cx="1402.4" cy="235.3" r="2.3"/><circle cx="1409.6" cy="235.3" r="2.3"/></g>
<g fill="none" stroke="#1c1c1c" stroke-width="1.5"><path d="M222 350.6 V338.7 H234 V343.3 M222 350.6 H229.4"/></g><g fill="#1c1c1c"><circle cx="222" cy="338.7" r="1.8"/><circle cx="234" cy="338.7" r="1.8"/><circle cx="222" cy="350.6" r="1.8"/><path d="M229.7 344.2 L236.2 346.5 L233.3 348 L231.5 351.8 Z"/><circle cx="234.6" cy="350.6" r="1.1"/></g>
<rect x="221.1" y="385.1" width="13.2" height="13.7" rx="2" fill="none" stroke="#1c1c1c" stroke-width="1.6"/><path d="M230.3 399.6 V396 Q230.3 394 232.3 394 H235 V397.6 Q235 399.6 233 399.6 Z" fill="#1c1c1c"/>
<text x="227.9" y="440" text-anchor="middle" font-family='"Liberation Sans", sans-serif' font-size="14.6" fill="#1c1c1c">Aa</text>
<g fill="#1c1c1c"><path d="M227.5 468.6 L231.3 475.2 H223.7 Z"/><rect x="220.2" y="477.3" width="5.9" height="5.9"/><circle cx="231.6" cy="480.4" r="3.3"/></g>
<circle cx="223" cy="523.2" r="1.9" fill="#1c1c1c"/><path d="M223 523.2 L232.5 513.6" stroke="#1c1c1c" stroke-width="1.5"/><path d="M234.6 511.5 L228.6 513 L233.1 517.5 Z" fill="#1c1c1c"/>
<g fill="none" stroke="#1c1c1c" stroke-width="1.5"><path d="M228.4 555.3 H235.2 M228.4 560.6 H235.2 M228.4 566 H235.2 M220.4 560.6 H225.6"/><path d="M225.6 554.4 C223.8 556 223.3 558.6 223.3 560.6 C223.3 562.6 223.8 565 225.6 566.6"/></g>
<g fill="none" stroke="#1c1c1c" stroke-width="1.3"><rect x="220.6" y="595.5" width="14" height="13.6"/><path d="M225.27 595.5 V609.1 M229.93 595.5 V609.1 M220.6 600.03 H234.6 M220.6 604.57 H234.6"/></g>
<g fill="none" stroke="#1c1c1c" stroke-width="1.6"><path d="M223.6 636.5 V651.9 M231.8 636.5 V651.9 M220 640.2 H235.4 M220 648.2 H235.4"/></g>
<g transform="translate(217.9 677.2) scale(0.775)"><path fill="#1c1c1c" d="M2 6H0v5h.01L0 20c0 1.1.9 2 2 2h18v-2H2V6zm20-2h-8l-2-2H6c-1.1 0-1.99.9-1.99 2L4 16c0 1.1.9 2 2 2h16c1.1 0 2-.9 2-2V6c0-1.1-.9-2-2-2zM7 15l4.5-6 3.5 4.51 2.5-3.01L21 15H7z"/></g>
<g fill="none" stroke="#1c1c1c" stroke-width="1.6"><rect x="221.6" y="727.7" width="12.6" height="12.8" rx="2"/><path d="M221.6 732.3 H234.2 M226.2 732.3 V740.5"/></g>
<path d="M222.6 769.1 H232.7 Q234.7 769.1 234.7 771.1 V780.6 Q234.7 782.6 232.7 782.6 H225.3 L220.6 787.2 V771.1 Q220.6 769.1 222.6 769.1 Z" fill="#1c1c1c"/><g fill="#fff"><rect x="223.1" y="772.7" width="9" height="1.4"/><rect x="223.1" y="775.6" width="9" height="1.4"/><rect x="223.1" y="778.6" width="4.5" height="1.4"/></g>
<g fill="none" stroke="#333" stroke-width="1.4" stroke-linecap="round" stroke-linejoin="round"><path d="M222.8 819.4 L226.6 823.5 L222.8 827.6 M228.2 819.4 L232 823.5 L228.2 827.6"/></g>
<g transform="translate(216.5 903.5) scale(0.68)"><path fill="#1c1c1c" d="M1 21h4V9H1v12zm22-11c0-1.1-.9-2-2-2h-6.31l.95-4.57.03-.32c0-.41-.17-.79-.44-1.06L14.17 1 7.59 7.59C7.22 7.95 7 8.45 7 9v10c0 1.1.9 2 2 2h9c.83 0 1.54-.5 1.84-1.22l3.02-7.05c.09-.23.14-.47.14-.73v-2z"/></g>
<g fill="none" stroke="#1c1c1c" stroke-width="1.4" stroke-linejoin="round" stroke-linecap="round"><rect x="254.4" y="906.1" width="11.2" height="8" rx="1"/><path d="M256.5 919.4 L259.9 916.4 L263.3 919.4 M259.9 916.4 V919"/></g>
<circle cx="295.4" cy="912.4" r="6.9" fill="none" stroke="#1c1c1c" stroke-width="1.6" stroke-dasharray="3.2 2.22" stroke-dashoffset="-1.11"/><circle cx="295.4" cy="912.4" r="2.2" fill="#1c1c1c"/>
<g fill="#b3b3b3"><path d="M331 903.5 L333 906.3 H329 Z"/><path d="M331 921.3 L333 918.5 H329 Z"/><path d="M322 912.4 L324.8 910.4 V914.4 Z"/><path d="M340 912.4 L337.2 910.4 V914.4 Z"/></g><circle cx="331" cy="912.4" r="1.6" fill="none" stroke="#b3b3b3" stroke-width="1.1"/><path d="M324.8 912.4 H326.8 M335.2 912.4 H337.2 M331 906.3 V908.3 M331 916.5 V918.5" stroke="#c8c8c8" stroke-width="1"/>
<circle cx="366.2" cy="913.2" r="8.2" fill="none" stroke="#1c1c1c" stroke-width="1.7"/><rect x="363.7" y="901.2" width="5" height="1.8" fill="#1c1c1c"/><rect x="365.5" y="902.5" width="1.4" height="2.6" fill="#1c1c1c"/><path d="M372 905.3 L373.6 906.9" stroke="#1c1c1c" stroke-width="2"/><path d="M366.2 913.2 L369.3 908.6" stroke="#1c1c1c" stroke-width="1.5" stroke-linecap="round"/><circle cx="366.2" cy="913.2" r="1.2" fill="#1c1c1c"/><circle cx="366.2" cy="913.2" r="6" fill="none" stroke="#1c1c1c" stroke-width="1.1" stroke-dasharray="0.7 1.67"/>
<circle cx="1193.2" cy="911.3" r="6.6" fill="none" stroke="#1c1c1c" stroke-width="1.5"/><path d="M1190 914.6 L1191.9 910 L1196.6 908 L1194.6 912.6 Z" fill="#1c1c1c"/><circle cx="1193.3" cy="911.3" r="0.9" fill="#fff"/>
<path d="M1231.1 911.3 H1243" stroke="#1c1c1c" stroke-width="1.5"/>
<text x="1271.3" y="917" font-family='"Liberation Sans", sans-serif' font-size="14.4" fill="#2a2a2a" textLength="35.4" lengthAdjust="spacingAndGlyphs">100 %</text>
<path d="M1326.4 911.5 H1338.4 M1332.4 905.5 V917.5" stroke="#1c1c1c" stroke-width="1.5"/>
<g transform="translate(1360 904.6) scale(0.7)"><path fill="#1c1c1c" d="M9 9V3H7v2.59L3.41 2 2 3.41 5.59 7H3v2h6zm12 0V7h-2.59l3.59-3.59L20.59 2 17 5.59V3h-2v6h6zM3 15v2h2.59L2 20.59 3.41 22 7 18.41V21h2v-6H3zm12 0v6h2v-2.59l3.59 3.59L22 20.59 18.41 17H21v-2h-6z" transform="translate(-2 -2)"/></g>
<g fill="none" stroke="#1c1c1c" stroke-width="1.5" stroke-linejoin="round"><path d="M1404.8 906.8 L1409 905.3 L1413 906.8 L1417 905.3 V916 L1413 917.5 L1409 916 L1404.8 917.5 Z M1409 905.3 V916 M1413 906.8 V917.5"/></g>
<g><clipPath id="c485"><circle cx="485.5" cy="234.6" r="17.3"/></clipPath><g clip-path="url(#c485)"><rect x="465" y="214" width="42" height="42" fill="#e4e7e2"/><rect x="466" y="214" width="5" height="42" fill="#7a8a6c"/><rect x="498" y="214" width="9" height="42" fill="#9aa897"/><rect x="474" y="214" width="1.6" height="30" fill="#4a5446"/><rect x="481" y="214" width="1.2" height="20" fill="#6a7468"/><rect x="494" y="214" width="1.6" height="30" fill="#4a5446"/><rect x="465" y="220" width="42" height="1.4" fill="#55604f"/><ellipse cx="470" cy="246" rx="8" ry="9" fill="#4e6b30"/><ellipse cx="502" cy="244" rx="5" ry="8" fill="#5f7646"/><path d="M471 256 C472 244 478 240.5 486 240.5 C494 240.5 500 244 501 256 Z" fill="#c2d2e6"/><path d="M483 240.5 L486.5 244 L490 240.5 Z" fill="#8fa3bd"/><rect x="484.2" y="235" width="4.6" height="6" fill="#3a241a"/><ellipse cx="486.5" cy="231.4" rx="5" ry="6.3" fill="#4a2f22"/><path d="M481.8 229 C481.5 225 484 224.6 486.5 224.6 C489 224.6 491.5 225 491.2 229 C490 226.5 483 226.5 481.8 229 Z" fill="#1e1612"/></g><circle cx="485.5" cy="234.6" r="17.3" fill="none" stroke="#8cc63f" stroke-width="1.3"/></g>
<g><clipPath id="c532"><circle cx="532.9" cy="234.6" r="17.3"/></clipPath><g clip-path="url(#c532)"><rect x="514" y="214" width="40" height="42" fill="#3d4d45"/><rect x="540" y="214" width="14" height="42" fill="#566157"/><path d="M522 250 C519 244 523 238 522 232 C521 224 526 219 533 219 C541 219 546 224 545 232 C544 238 548 244 545 250 C541 246 536 244 533 244 C530 244 526 246 522 250 Z" fill="#cbb08a"/><path d="M519 256 C521 246 526 243 533 243 C541 243 546 246 548 256 Z" fill="#b98368"/><path d="M526 256 L530 245 L537 245 L540 256 Z" fill="#d9c9a6"/><ellipse cx="533.2" cy="232.8" rx="5" ry="6.4" fill="#e9c7ad"/><path d="M527 226 C529 221 537 221 539 227 C537 224 530 224 527 226 Z" fill="#b48d62"/></g><circle cx="532.9" cy="234.6" r="17.3" fill="none" stroke="#e57368" stroke-width="1.3"/></g>
<g><clipPath id="c578"><circle cx="578.2" cy="234.7" r="17.3"/></clipPath><g clip-path="url(#c578)"><rect x="559" y="214" width="40" height="42" fill="#f3f5f7"/><path d="M569.5 253 C568 240 569 222 578.3 219.5 C587.5 221 589 240 587.5 253 Z" fill="#231a1a"/><path d="M563 256 C565 247 571 244 578 244 C585 244 591 247 593 256 Z" fill="#1d4150"/><path d="M574.5 256 L578 245.5 L581.5 256 Z" fill="#f2f0f0"/><ellipse cx="578.3" cy="232.5" rx="4.2" ry="5.8" fill="#e8c7b2"/></g><circle cx="578.2" cy="234.7" r="17.3" fill="none" stroke="#2a9fb5" stroke-width="1.3"/></g>
<g><clipPath id="c622"><circle cx="622.5" cy="234.6" r="17.3"/></clipPath><g clip-path="url(#c622)"><rect x="603" y="214" width="40" height="42" fill="#8791ad"/><path d="M606 256 C608 246 614 242.5 622.5 242.5 C631 242.5 637 246 639 256 Z" fill="#3b5aa6"/><path d="M618.5 256 L622.5 243 L626.5 256 Z" fill="#dfe2f2"/><ellipse cx="622.4" cy="230.5" rx="4.8" ry="6.6" fill="#c9a588"/><path d="M618 233.5 C618.5 238.5 626.5 238.5 627 233.5 L626.5 237 C624.5 239.5 620.5 239.5 618.5 237 Z" fill="#6e5a4c"/><rect x="620.5" y="236.5" width="4" height="6" fill="#b8937a"/></g><circle cx="622.5" cy="234.6" r="17.3" fill="none" stroke="#d9b54a" stroke-width="1.3"/></g>
</svg>
</body></html>
